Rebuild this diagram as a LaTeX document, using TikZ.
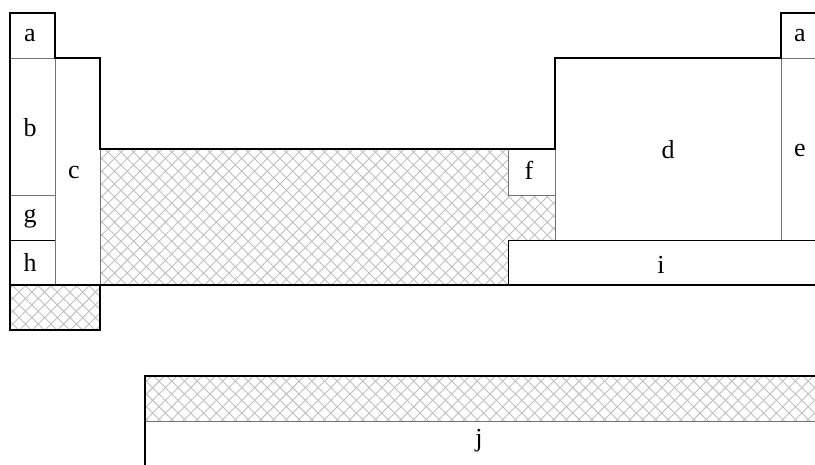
\documentclass[tikz,border=0pt]{standalone}
\usepackage{fontspec}
\setmainfont{Liberation Serif}
\usetikzlibrary{patterns.meta}
\tikzset{
  hatchA/.style={pattern={Lines[angle=45,distance=9pt,line width=0.9pt]},pattern color=black!25},
  hatchB/.style={pattern={Lines[angle=-45,distance=9pt,line width=0.9pt]},pattern color=black!25},
  cellline/.style={draw=black!55,line width=0.8pt},
  darkline/.style={draw=black,line width=0.8pt},
  outline/.style={draw=black,line width=1.6pt,line join=miter},
  lbl/.style={inner sep=0pt,font=\fontsize{26}{30}\selectfont}
}
\begin{document}
\begin{tikzpicture}[x=1pt,y=-1pt]
\useasboundingbox (0,0) rectangle (815,464);
\clip (0,0) rectangle (815,464);
% hatched areas
\foreach \s in {hatchA,hatchB}{
  \fill[\s] (10,285) rectangle (100,330);
  \fill[\s] (100,149) rectangle (555,285);
  \fill[\s] (145,376) rectangle (830,421);
}
% white cells
\fill[white] (508.5,149) rectangle (555,195);
\fill[white] (508.5,240) rectangle (830,285);
% thin cell lines
\draw[cellline] (10,58) -- (55,58);
\draw[cellline] (10,195) -- (55,195);
\draw[darkline] (10,240) -- (55,240);
\draw[cellline] (55,58) -- (55,285);
\draw[cellline] (100,149) -- (100,285);
\draw[cellline] (508.5,149) -- (508.5,195) -- (555,195);
\draw[cellline] (555,149) -- (555,240);
\draw[darkline] (508.5,285) -- (508.5,240) -- (830,240);
\draw[cellline] (781,58) -- (781,240);
\draw[cellline] (781,58) -- (830,58);
\draw[cellline] (145,421) -- (830,421);
% thick outlines
\draw[outline] (10,330) -- (10,13) -- (55,13) -- (55,58) -- (100,58) -- (100,149) -- (555,149) -- (555,58) -- (781,58) -- (781,13) -- (830,13);
\draw[outline] (10,285) -- (10,330) -- (100,330) -- (100,285) -- (830,285);
\draw[outline] (10,285) -- (100,285);
\draw[outline] (145,480) -- (145,376) -- (830,376);
% labels
\node[lbl] (la1) at (30,35.5) {a};
\node[lbl] (lb) at (30,128) {b};
\node[lbl] (lg) at (30,219) {g};
\node[lbl] (lh) at (30,262) {h};
\node[lbl] (lc) at (74,172) {c};
\node[lbl] (lf) at (529,170) {f};
\node[lbl] (ld) at (668,150) {d};
\node[lbl] (le) at (800,150) {e};
\node[lbl] (la2) at (800,35.5) {a};
\node[lbl] (li) at (661,265) {i};
\node[lbl] (lj) at (479,441) {j};
\end{tikzpicture}
\end{document}
